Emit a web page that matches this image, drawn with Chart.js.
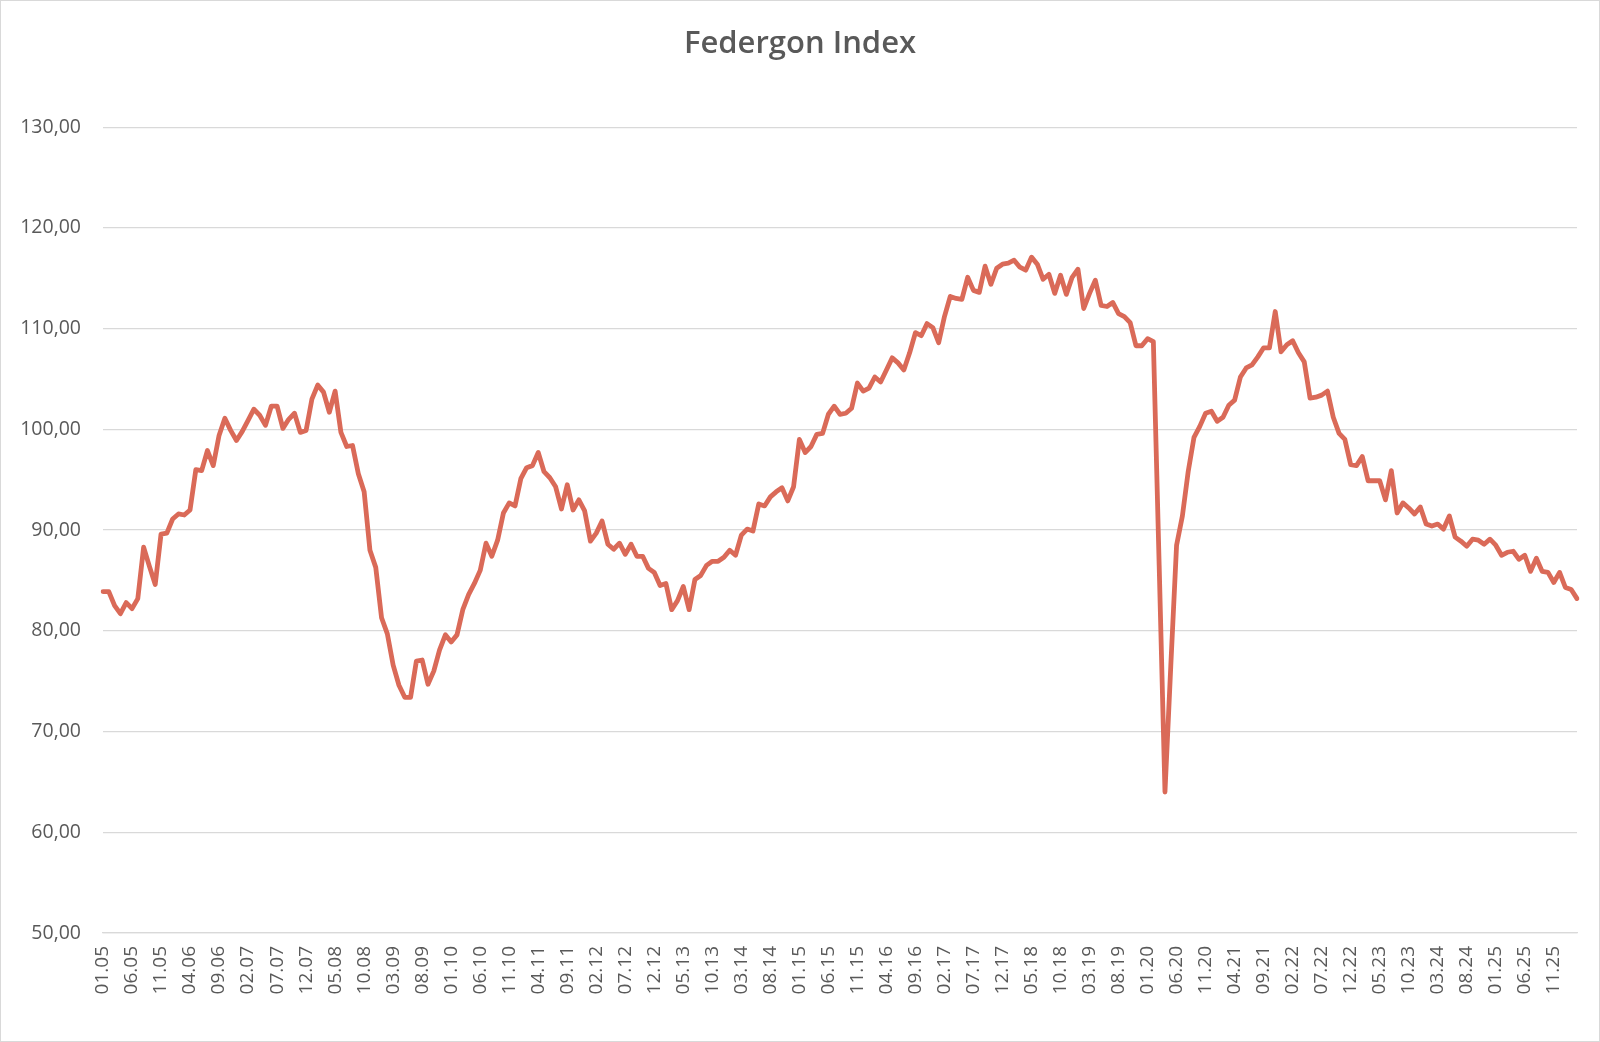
<!DOCTYPE html>
<html>
<head>
<meta charset="utf-8">
<title>Federgon Index</title>
<script src="https://cdn.jsdelivr.net/npm/chart.js@4/dist/chart.umd.min.js"></script>
<style>
html,body{margin:0;padding:0;background:#fff}
#wrap{position:absolute;left:0;top:0;width:1600px;height:1042px;box-sizing:border-box;border:1px solid #d9d9d9;background:#fff}
canvas{display:block}
</style>
</head>
<body>
<div id="wrap"><canvas id="chart" width="1598" height="1040"></canvas></div>
<script>

// chart title + first month of the series
const titel="Federgon Index"
const startJaar=2005
const startMaand=1

// index values, one per month (01.05 .. 03.26)
const indexWaarden=[
83.9,83.9,82.5,81.7,82.8,82.2,83.2,88.3,86.4,84.6,
89.6,89.7,91.1,91.6,91.5,92.0,96.0,95.9,97.9,96.4,
99.4,101.1,99.9,98.9,99.8,100.9,102.0,101.4,100.4,102.3,
102.3,100.1,101.0,101.6,99.7,99.9,103.0,104.4,103.7,101.7,
103.8,99.7,98.3,98.4,95.6,93.8,88.0,86.3,81.3,79.7,
76.6,74.6,73.4,73.4,77.0,77.1,74.7,76.0,78.1,79.6,
78.9,79.6,82.1,83.6,84.7,86.0,88.7,87.4,89.0,91.7,
92.7,92.4,95.1,96.2,96.4,97.7,95.8,95.2,94.3,92.1,
94.5,92.0,93.0,91.9,88.9,89.7,90.9,88.6,88.1,88.7,
87.6,88.6,87.4,87.4,86.2,85.8,84.5,84.7,82.1,83.0,
84.4,82.1,85.1,85.5,86.5,86.9,86.9,87.3,88.0,87.5,
89.5,90.1,89.9,92.6,92.4,93.3,93.8,94.2,92.9,94.3,
99.0,97.7,98.3,99.5,99.6,101.5,102.3,101.5,101.6,102.1,
104.6,103.8,104.1,105.2,104.7,105.9,107.1,106.6,105.9,107.6,
109.6,109.3,110.5,110.1,108.6,111.2,113.2,113.0,112.9,115.1,
113.8,113.6,116.2,114.4,116.0,116.4,116.5,116.8,116.1,115.8,
117.1,116.4,114.9,115.4,113.5,115.3,113.4,115.1,115.9,112.0,
113.5,114.8,112.3,112.2,112.6,111.5,111.2,110.6,108.3,108.3,
109.0,108.7,86.5,64.0,76.5,88.5,91.4,95.8,99.2,100.3,
101.6,101.8,100.8,101.2,102.4,102.9,105.2,106.1,106.4,107.2,
108.1,108.1,111.7,107.7,108.4,108.8,107.6,106.7,103.1,103.2,
103.4,103.8,101.2,99.6,99.0,96.5,96.4,97.3,94.9,94.9,
94.9,93.0,95.9,91.7,92.7,92.2,91.6,92.3,90.6,90.4,
90.6,90.1,91.4,89.3,88.9,88.4,89.1,89.0,88.6,89.1,
88.5,87.5,87.8,87.9,87.1,87.5,85.9,87.2,85.9,85.8,
84.8,85.8,84.3,84.1,83.2
]

// y axis range and step
const yMin=50
const yMax=130
const yStap=10

// every 5th month gets a label
const labelStap=5

let maanden=[]

for(let i=0;i<indexWaarden.length;i++){

let m=(startMaand-1+i)%12+1
let j=startJaar+Math.floor((startMaand-1+i)/12)

maanden.push(String(m).padStart(2,"0")+"."+String(j%100).padStart(2,"0"))

}

function formatGetal(v){

return Number(v).toFixed(2).replace(".",",")

}

const grijs="#595959"
const lijn="#d9d9d9"
const font="'Open Sans', 'Noto Sans', sans-serif"

new Chart(document.getElementById("chart"),{

type:"line",

data:{
labels:maanden,
datasets:[{
label:titel,
data:indexWaarden,
borderColor:"#da6a58",
borderWidth:4.8,
pointRadius:0,
tension:0,
borderJoinStyle:"round",
borderCapStyle:"round",
fill:false
}]
},

options:{
responsive:false,
animation:false,
devicePixelRatio:1,
layout:{
padding:0
},
plugins:{
legend:{display:false},
tooltip:{enabled:false},
title:{
display:true,
text:titel,
color:grijs,
font:{family:font,size:31,weight:"600"},
padding:{top:25,bottom:64}
}
},
scales:{
x:{
offset:false,
grid:{display:false,drawTicks:false},
border:{display:true,color:lijn,width:1.3},
ticks:{
autoSkip:false,
minRotation:90,
maxRotation:90,
padding:13,
color:grijs,
font:{family:font,size:19},
callback:function(v,i){
return i%labelStap==0 ? maanden[i] : ""
}
},
afterFit:function(s){
s.height=108
s.paddingLeft=0
s.paddingRight=22
}
},
y:{
min:yMin,
max:yMax,
grid:{color:lijn,lineWidth:1.3,drawTicks:false},
border:{display:false},
ticks:{
stepSize:yStap,
padding:22,
color:grijs,
font:{family:font,size:19.5},
callback:function(v){
return formatGetal(v)
}
},
afterFit:function(s){
s.width=102
}
}
}
}

})

</script>
</body>
</html>
